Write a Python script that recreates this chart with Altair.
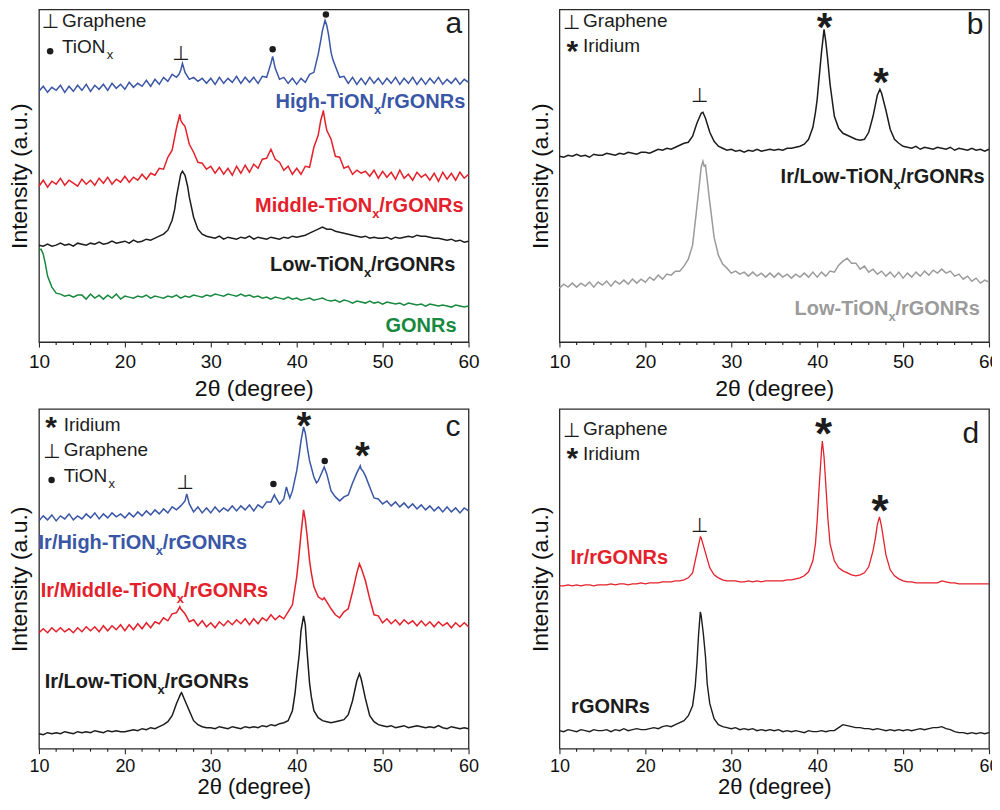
import pandas as pd
import altair as alt

FONT = 'Liberation Sans'
SYM = 'DejaVu Sans'
INK = '#1c1c1c'
BLUE = '#3a56a6'
RED = '#e4212b'
GREEN = '#17893f'
GRAY = '#9b9b9b'

TOP_H = 333
BOTTOM_H = 340

# 2-theta grid of the scans (0.5 degree step)
two_theta = [
    10.0, 10.5, 11.0, 11.5, 12.0, 12.5, 13.0, 13.5, 14.0, 14.5,
    15.0, 15.5, 16.0, 16.5, 17.0, 17.5, 18.0, 18.5, 19.0, 19.5,
    20.0, 20.5, 21.0, 21.5, 22.0, 22.5, 23.0, 23.5, 24.0, 24.5,
    25.0, 25.5, 26.0, 26.5, 27.0, 27.5, 28.0, 28.5, 29.0, 29.5,
    30.0, 30.5, 31.0, 31.5, 32.0, 32.5, 33.0, 33.5, 34.0, 34.5,
    35.0, 35.5, 36.0, 36.5, 37.0, 37.5, 38.0, 38.5, 39.0, 39.5,
    40.0, 40.5, 41.0, 41.5, 42.0, 42.5, 43.0, 43.5, 44.0, 44.5,
    45.0, 45.5, 46.0, 46.5, 47.0, 47.5, 48.0, 48.5, 49.0, 49.5,
    50.0, 50.5, 51.0, 51.5, 52.0, 52.5, 53.0, 53.5, 54.0, 54.5,
    55.0, 55.5, 56.0, 56.5, 57.0, 57.5, 58.0, 58.5, 59.0, 59.5,
    60.0,
]
major_ticks = [10, 20, 30, 40, 50, 60]
minor_ticks = [12, 14, 16, 18, 22, 24, 26, 28, 32, 34, 36, 38,
               42, 44, 46, 48, 52, 54, 56, 58]

# ---- panel a (intensity in a.u., curves stacked with offsets)
a_high = [
    251, 256, 250, 255, 252, 257, 250, 256, 251, 257,
    252, 258, 251, 257, 253, 258, 252, 259, 254, 258,
    253, 260, 255, 259, 256, 262, 256, 263, 258, 265,
    261, 268, 265, 272, 270, 263, 265, 261, 264, 259,
    264, 258, 265, 259, 264, 260, 266, 259, 265, 260,
    265, 259, 266, 265, 279, 274, 263, 265, 259, 264,
    258, 264, 260, 268, 270, 288, 312, 317, 290, 276,
    265, 266, 259, 265, 258, 264, 258, 265, 259, 264,
    258, 264, 259, 265, 258, 264, 259, 265, 258, 264,
    258, 264, 259, 265, 258, 263, 259, 264, 258, 263,
    260,
]
a_high_tips = [(26.3, 268), (26.7, 279), (37.2, 286), (42.8, 302),
               (43.3, 322), (43.7, 308), (44.2, 283)]

a_mid = [
    156, 162, 155, 161, 158, 164, 157, 162, 159, 156,
    163, 158, 162, 157, 164, 159, 165, 158, 163, 160,
    166, 160, 165, 162, 168, 163, 169, 167, 174, 173,
    185, 192, 214, 222, 216, 198, 190, 180, 179, 173,
    176, 169, 175, 168, 174, 167, 176, 169, 177, 170,
    178, 174, 183, 184, 193, 183, 180, 172, 176, 168,
    174, 168, 176, 175, 195, 207, 228, 212, 203, 186,
    185, 174, 176, 168, 172, 169, 171, 166, 172, 164,
    171, 165, 170, 163, 172, 164, 168, 162, 170, 165,
    168, 162, 169, 161, 170, 163, 169, 162, 170, 164,
    168,
]
a_mid_tips = [(26.2, 221), (26.4, 228), (26.7, 219), (42.8, 222),
              (43.1, 232), (43.3, 221)]

a_low = [
    97, 96, 98, 96, 97, 99, 97, 98, 96, 99,
    98, 97, 99, 98, 100, 98, 99, 101, 99, 100,
    101, 99, 102, 100, 101, 103, 102, 104, 106, 108,
    112, 122, 145, 168, 167, 145, 125, 113, 108, 106,
    105, 104, 106, 103, 105, 104, 103, 105, 104, 106,
    103, 105, 104, 103, 105, 104, 103, 105, 104, 106,
    105, 106, 107, 109, 111, 113, 115, 113, 113, 111,
    110, 109, 108, 107, 106, 105, 106, 104, 105, 104,
    104, 105, 103, 105, 104, 105, 106, 105, 107, 106,
    106, 105, 104, 104, 103, 102, 103, 101, 102, 100,
    101,
]
a_low_tips = [(25.8, 133), (26.7, 171), (27.3, 156)]

a_gonr = [
    92, 88, 66, 55, 49, 48, 46, 47, 45, 47,
    47, 43, 48, 44, 47, 43, 47, 44, 48, 43,
    46, 45, 44, 46, 45, 47, 44, 46, 45, 44,
    46, 45, 47, 44, 46, 45, 47, 46, 45, 47,
    46, 48, 47, 46, 48, 47, 46, 48, 46, 47,
    45, 46, 44, 45, 43, 45, 44, 43, 45, 43,
    44, 42, 43, 44, 42, 43, 44, 42, 41, 42,
    40, 42, 41, 39, 41, 40, 39, 41, 39, 40,
    38, 40, 39, 38, 39, 37, 39, 38, 37, 38,
    36, 38, 37, 36, 37, 36, 35, 37, 36, 35,
    36,
]
a_gonr_tips = [(10.25, 93), (10.75, 78)]

# ---- panel b
b_ir_low = [
    186, 185, 187, 186, 188, 186, 187, 185, 188, 187,
    187, 189, 188, 187, 189, 188, 190, 189, 188, 190,
    190, 189, 191, 193, 192, 194, 193, 195, 197, 199,
    200, 206, 219, 229, 224, 210, 201, 196, 194, 192,
    193, 191, 192, 190, 192, 191, 193, 191, 192, 193,
    192, 193, 192, 194, 194, 195, 196, 198, 203, 215,
    243, 290, 301, 258, 226, 214, 209, 207, 205, 203,
    202, 203, 210, 226, 247, 249, 232, 213, 203, 199,
    196, 195, 194, 196, 193, 195, 194, 193, 195, 194,
    193, 195, 192, 194, 193, 192, 194, 192, 193, 191,
    193,
]
b_ir_low_tips = [(26.7, 230), (39.8, 230), (40.2, 262), (40.8, 313),
                 (41.2, 285), (47.3, 253)]

b_low = [
    54, 58, 55, 59, 55, 59, 56, 60, 55, 60,
    57, 61, 56, 61, 58, 62, 58, 63, 59, 63,
    60, 65, 62, 67, 63, 68, 67, 71, 71, 76,
    83, 97, 135, 175, 177, 140, 105, 87, 78, 74,
    69, 71, 68, 70, 66, 70, 66, 69, 65, 69,
    65, 69, 65, 68, 64, 68, 65, 69, 65, 70,
    65, 70, 66, 71, 70, 77, 81, 84, 79, 79,
    73, 76, 70, 73, 68, 71, 66, 70, 65, 70,
    64, 69, 65, 70, 66, 71, 67, 72, 69, 73,
    69, 71, 66, 68, 63, 66, 61, 64, 59, 62,
    60,
]
b_low_tips = [(26.6, 178), (26.7, 181), (26.85, 176)]

# ---- panel c
c_high = [
    228, 233, 229, 234, 228, 233, 230, 235, 229, 233,
    230, 235, 231, 236, 230, 235, 231, 236, 232, 235,
    231, 236, 232, 237, 233, 238, 234, 239, 235, 240,
    236, 242, 239, 243, 248, 245, 237, 242, 236, 241,
    236, 242, 237, 241, 238, 243, 238, 243, 239, 244,
    238, 244, 241, 247, 247, 252, 245, 250, 256, 258,
    278, 308, 316, 288, 272, 268, 278, 275, 258, 252,
    248, 252, 254, 266, 276, 280, 273, 262, 251, 250,
    245, 248, 243, 247, 242, 246, 241, 245, 240, 244,
    239, 243, 238, 242, 237, 242, 237, 241, 236, 241,
    238,
]
c_high_tips = [(27.2, 255), (37.4, 254), (38.8, 262), (39.2, 251),
               (40.3, 295), (40.8, 322), (41.3, 298), (42.3, 266),
               (43.2, 282), (47.4, 283), (47.7, 278)]

c_mid = [
    116, 120, 116, 121, 117, 121, 117, 120, 116, 121,
    117, 122, 118, 122, 117, 123, 118, 123, 119, 124,
    118, 124, 119, 125, 120, 126, 121, 127, 125, 131,
    128, 135, 136, 140, 135, 127, 129, 123, 128, 122,
    126, 121, 127, 123, 128, 124, 129, 125, 130, 124,
    130, 125, 131, 128, 134, 129, 133, 130, 137, 144,
    172, 215, 229, 188, 162, 152, 149, 147, 140, 134,
    131, 137, 140, 157, 176, 181, 168, 150, 134, 133,
    126, 130, 125, 129, 124, 129, 125, 128, 123, 128,
    123, 127, 122, 127, 123, 126, 121, 126, 122, 126,
    122,
]
c_mid_tips = [(26.4, 142), (40.2, 188), (40.8, 239), (41.2, 214),
              (41.7, 176), (43.2, 151), (47.3, 185)]

c_low = [
    15, 14, 16, 15, 16, 15, 17, 16, 15, 17,
    16, 17, 16, 18, 17, 16, 18, 17, 18, 17,
    17, 18, 19, 18, 20, 19, 21, 20, 22, 24,
    27, 33, 45, 55, 48, 38, 28, 24, 22, 21,
    21, 20, 22, 21, 20, 22, 21, 20, 22, 21,
    22, 21, 23, 22, 24, 23, 25, 26, 28, 38,
    72, 118, 124, 65, 38, 31, 28, 27, 26, 27,
    28, 29, 34, 48, 68, 70, 50, 33, 27, 24,
    23, 22, 23, 21, 22, 23, 21, 22, 23, 22,
    21, 22, 21, 23, 21, 20, 22, 21, 20, 21,
    20,
]
c_low_tips = [(26.6, 56), (39.8, 55), (40.3, 95), (40.8, 133),
              (41.2, 98), (41.7, 52), (47.3, 75)]

# ---- panel d
d_ir = [
    163, 163, 164, 163, 164, 163, 164, 164, 163, 164,
    164, 164, 165, 164, 165, 165, 164, 165, 165, 166,
    165, 166, 166, 166, 167, 167, 167, 168, 168, 169,
    171, 176, 196, 211, 196, 181, 174, 171, 169, 168,
    168, 168, 167, 167, 168, 167, 168, 167, 168, 168,
    168, 168, 168, 169, 169, 170, 171, 173, 177, 188,
    228, 298, 265, 205, 188, 181, 178, 176, 174, 173,
    174, 176, 182, 198, 224, 222, 194, 179, 173, 170,
    168, 167, 167, 166, 166, 166, 166, 166, 166, 168,
    167, 166, 166, 165, 165, 165, 165, 165, 165, 165,
    165,
]
d_ir_tips = [(26.4, 212), (39.8, 205), (40.25, 265), (40.6, 308),
             (40.8, 292), (41.25, 230), (46.8, 212), (47.25, 232)]

d_rgo = [
    18, 17, 19, 18, 17, 19, 18, 17, 19, 18,
    18, 19, 17, 19, 18, 20, 18, 19, 20, 19,
    19, 20, 21, 20, 22, 23, 22, 24, 26, 28,
    33, 43, 85, 133, 92, 45, 30, 24, 22, 21,
    20, 21, 19, 20, 19, 20, 18, 19, 18, 19,
    18, 19, 17, 18, 17, 18, 17, 16, 18, 17,
    17, 18, 17, 18, 18, 21, 24, 23, 22, 21,
    21, 20, 20, 19, 20, 19, 18, 19, 18, 19,
    18, 19, 18, 19, 20, 19, 20, 21, 21, 22,
    20, 19, 17, 16, 16, 15, 16, 15, 16, 15,
    16,
]
d_rgo_tips = [(25.8, 62), (26.2, 115), (26.4, 137), (26.75, 115), (27.2, 65)]


def scan(vals, tips):
    pts = sorted(list(zip(two_theta, vals)) + list(tips))
    return pd.DataFrame(pts, columns=['x', 'y'])


def x_enc(label_pad, label_size, title_pad, title_size):
    return alt.X('x:Q', scale=alt.Scale(domain=[10, 60], nice=False, zero=False),
                 axis=alt.Axis(values=major_ticks, title='2θ (degree)', tickSize=5,
                               labelFlush=False, labelPadding=label_pad,
                               labelFontSize=label_size, titleFontSize=title_size,
                               titleFontWeight='normal', titlePadding=title_pad,
                               grid=False, domain=False))


def y_enc(h):
    return alt.Y('y:Q', scale=alt.Scale(domain=[0, h], nice=False, zero=False),
                 axis=alt.Axis(title='Intensity (a.u.)', labels=False, ticks=False,
                               domain=False, grid=False, titleFontSize=23,
                               titleFontWeight='normal', titlePadding=7))


LEG = dict(fontSize=19, align='left', baseline='middle')
LEG_SUB = dict(fontSize=13, align='left', baseline='middle', dx=45, dy=8)
PERP = dict(fontSize=20, align='center', baseline='middle', font=SYM)


def star(x, centre, size, h):
    # asterisk hung from its top so that its box stays inside the panel
    y = min(h, centre + 0.38 * size)
    return (x, y, '*', dict(fontSize=size, align='center', baseline='top',
                            fontWeight='bold'))


def letter(x, base, text, h):
    y = min(h, base + 0.79 * 30)
    return (x, y, text, dict(fontSize=30, align='center', baseline='top'))


def tag(x, y, head, tail, color):
    # bold sample label with a subscript x after "TiON"
    return [
        (x, y, head, dict(fontSize=20, fontWeight='bold', align='right',
                          baseline='alphabetic', color=color)),
        (x, y, 'x', dict(fontSize=13, fontWeight='bold', align='left',
                         baseline='alphabetic', color=color, dy=6)),
        (x, y, tail, dict(fontSize=20, fontWeight='bold', align='left',
                          baseline='alphabetic', color=color, dx=7)),
    ]


def panel(h, X, curves, notes, dots):
    Y = y_enc(h)
    layers = [
        alt.Chart(scan(v, t)).mark_line(color=c, strokeWidth=w).encode(x=X, y=Y)
        for v, t, c, w in curves
    ]
    layers.append(
        alt.Chart(pd.DataFrame({'x': minor_ticks})).mark_rule(color=INK, strokeWidth=1.1)
        .encode(x=X, y=alt.value(h), y2=alt.value(h + 3))
    )
    if dots:
        layers.append(
            alt.Chart(pd.DataFrame(dots, columns=['x', 'y']))
            .mark_circle(color=INK, size=42, opacity=1).encode(x=X, y=Y)
        )
    for x, y, text, style in notes:
        style = {'color': INK, 'font': FONT, **style}
        layers.append(
            alt.Chart(pd.DataFrame({'x': [x], 'y': [y], 't': [text]}))
            .mark_text(**style).encode(x=X, y=Y, text='t:N')
        )
    return alt.layer(*layers).properties(width=430, height=h)


X_TOP = x_enc(5, 19, 6, 23)
X_BOTTOM = x_enc(4, 18, 1, 22)

panel_a = panel(
    TOP_H, X_TOP,
    [(a_gonr, a_gonr_tips, GREEN, 1.5), (a_low, a_low_tips, INK, 1.5),
     (a_mid, a_mid_tips, RED, 1.5), (a_high, a_high_tips, BLUE, 1.5)],
    [
        (11.3, 320.5, '⊥', PERP), (12.67, 321, 'Graphene', LEG),
        (12.67, 295, 'TiON', LEG), (12.67, 295, 'x', LEG_SUB),
        (26.5, 288, '⊥', PERP),
        letter(58.3, 314, 'a', TOP_H),
        *tag(48.99, 234, 'High-TiON', '/rGONRs', BLUE),
        *tag(48.8, 130, 'Middle-TiON', '/rGONRs', RED),
        *tag(47.83, 71, 'Low-TiON', '/rGONRs', INK),
        (58.6, 10, 'GONRs', dict(fontSize=20, fontWeight='bold', align='right',
                                 baseline='alphabetic', color=GREEN)),
    ],
    [(11.3, 291), (37.2, 293), (43.4, 328)],
)

panel_b = panel(
    TOP_H, X_TOP,
    [(b_low, b_low_tips, GRAY, 1.5), (b_ir_low, b_ir_low_tips, INK, 1.5)],
    [
        (11.4, 319, '⊥', PERP), (12.75, 321, 'Graphene', LEG),
        star(11.5, 294, 30, TOP_H), (12.75, 296, 'Iridium', LEG),
        (26.3, 246, '⊥', PERP),
        star(40.85, 326, 40, TOP_H), star(47.44, 263, 40, TOP_H),
        letter(58.37, 309, 'b', TOP_H),
        *tag(48.87, 159, 'Ir/Low-TiON', '/rGONRs', INK),
        *tag(48.3, 27, 'Low-TiON', '/rGONRs', GRAY),
    ],
    [],
)

panel_c = panel(
    BOTTOM_H, X_BOTTOM,
    [(c_low, c_low_tips, INK, 1.5), (c_mid, c_mid_tips, RED, 1.5),
     (c_high, c_high_tips, BLUE, 1.5)],
    [
        star(11.4, 325, 30, BOTTOM_H), (12.87, 324, 'Iridium', LEG),
        (11.47, 297, '⊥', PERP), (12.87, 299, 'Graphene', LEG),
        (12.87, 273, 'TiON', LEG), (12.87, 273, 'x', LEG_SUB),
        (27.0, 266, '⊥', PERP),
        star(40.85, 328, 38, BOTTOM_H), star(47.64, 295, 38, BOTTOM_H),
        letter(58.2, 313, 'c', BOTTOM_H),
        *tag(23.6, 200, 'Ir/High-TiON', '/rGONRs', BLUE),
        *tag(26.05, 152, 'Ir/Middle-TiON', '/rGONRs', RED),
        *tag(23.8, 61, 'Ir/Low-TiON', '/rGONRs', INK),
    ],
    [(11.47, 269), (37.29, 265), (43.26, 288)],
)

panel_d = panel(
    BOTTOM_H, X_BOTTOM,
    [(d_rgo, d_rgo_tips, INK, 1.4), (d_ir, d_ir_tips, RED, 1.3)],
    [
        (11.4, 318, '⊥', PERP), (12.75, 320, 'Graphene', LEG),
        star(11.5, 294, 30, BOTTOM_H), (12.75, 295, 'Iridium', LEG),
        (26.3, 223, '⊥', PERP),
        star(40.73, 318, 44, BOTTOM_H), star(47.33, 241, 44, BOTTOM_H),
        letter(57.87, 306, 'd', BOTTOM_H),
        (11.28, 185, 'Ir/rGONRs', dict(fontSize=20, fontWeight='bold', align='left',
                                       baseline='alphabetic', color=RED)),
        (11.36, 36, 'rGONRs', dict(fontSize=20, fontWeight='bold', align='left',
                                   baseline='alphabetic', color=INK)),
    ],
    [],
)

# the last "60" label runs off the right edge, as in the original figure
chart = alt.concat(
    panel_a, panel_b, panel_c, panel_d,
    columns=2, spacing={'row': 67, 'column': 91}, bounds='flush',
).properties(
    padding={'left': 0, 'top': 0, 'right': -9, 'bottom': 0},
).configure(
    font=FONT,
).configure_view(
    stroke='#2a2a2a', strokeWidth=1.3,
).configure_axis(
    labelFont=FONT, titleFont=FONT, labelColor='#111', titleColor='#111',
    tickColor='#2a2a2a', tickWidth=1.1,
)

chart.save("out.html", embed_options={"renderer": "svg", "actions": False})
